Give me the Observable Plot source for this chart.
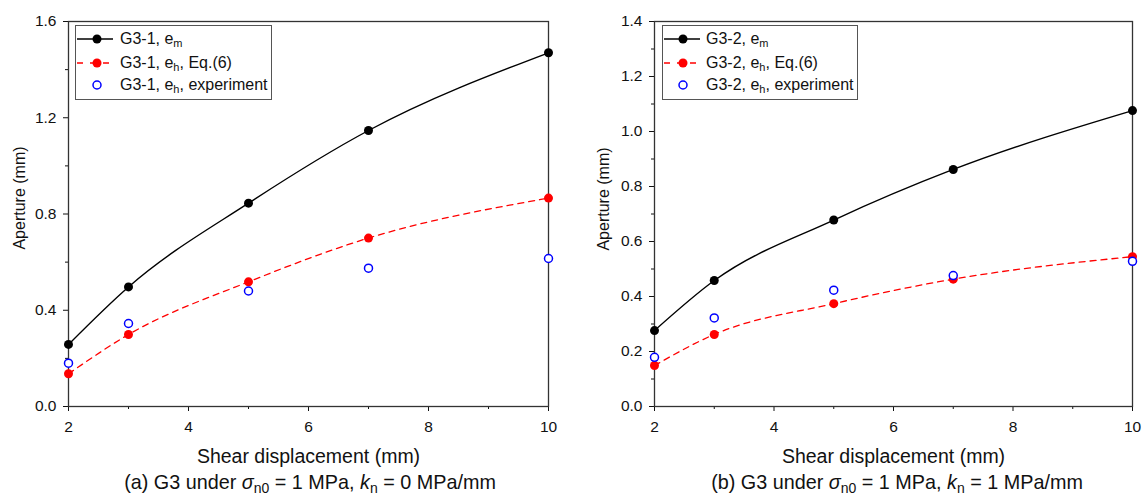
<!DOCTYPE html>
<html><head><meta charset="utf-8">
<script src="https://cdn.jsdelivr.net/npm/d3@7"></script>
<script src="https://cdn.jsdelivr.net/npm/@observablehq/plot@0.6"></script>
<style>
body{margin:0;background:#fff;font-family:"Liberation Sans",Arial,sans-serif;color:#111;}
#wrap{position:relative;width:1142px;height:495px;overflow:hidden;}
.panel{position:absolute;top:0;width:571px;height:495px;}
.panel svg{display:block;}
.legend{position:absolute;border:1px solid #555;background:#fff;font-size:16px;box-sizing:border-box;}
.row{position:absolute;height:20px;left:0;right:0;}
.row svg{position:absolute;left:0;top:0;}
.row span{position:absolute;top:0;line-height:20px;white-space:nowrap;}
.row sub{font-size:11px;vertical-align:-3px;line-height:0;}
.caption{position:absolute;white-space:nowrap;font-size:19.8px;line-height:20px;transform:translateX(-50%);}
.caption sub{font-size:14px;vertical-align:-4px;line-height:0;}
.ylab{position:absolute;white-space:nowrap;font-size:16px;line-height:16px;transform:translate(-50%,-50%) rotate(-90deg);}
g[aria-label="x-axis label"] text{font-size:19.5px;}
</style>
</head><body>
<div id="wrap"></div>
<script>
const shear = [2, 3, 5, 7, 10];
const g31_em  = [0.258, 0.497, 0.845, 1.147, 1.470];
const g31_eq6 = [0.136, 0.299, 0.518, 0.700, 0.866];
const g31_exp = [0.180, 0.345, 0.480, 0.575, 0.615];
const g32_em  = [0.276, 0.458, 0.678, 0.862, 1.076];
const g32_eq6 = [0.149, 0.262, 0.374, 0.463, 0.545];
const g32_exp = [0.179, 0.322, 0.423, 0.476, 0.528];
const xMajor = [2, 4, 6, 8, 10];
const xMinor = [3, 5, 7, 9];
const yMajorA = [0, 0.4, 0.8, 1.2, 1.6];
const yMinorA = [0.2, 0.6, 1.0, 1.4];
const yMajorB = [0, 0.2, 0.4, 0.6, 0.8, 1.0, 1.2, 1.4];
const yMinorB = [0.1, 0.3, 0.5, 0.7, 0.9, 1.1, 1.3];

function rows(vals){ return shear.map((x,i)=>({x, y: vals[i]})); }

function makePanel(cfg){
  const em = rows(cfg.em), eq = rows(cfg.eq6), ex = rows(cfg.exp);
  return Plot.plot({
    width: 571, height: 470,
    marginLeft: cfg.ml, marginRight: cfg.mr, marginTop: 21, marginBottom: 64,
    x: {domain: [2, 10]},
    y: {domain: [0, cfg.ymax]},
    style: {fontFamily: "Liberation Sans, Arial, sans-serif", fontSize: "15.5px", color: "#111", background: "white"},
    marks: [
      Plot.axisX({ticks: xMajor, tickSize: 5, tickPadding: 9, tickFormat: d3.format("d"), fontSize: 15.5,
        label: "Shear displacement (mm)", labelAnchor: "center", labelArrow: "none", labelOffset: 56}),
      Plot.axisX({ticks: xMinor, tickSize: 3, text: null, label: null}),
      Plot.axisY({ticks: cfg.yMajor, tickSize: 5, tickPadding: 7, tickFormat: d3.format(".1f"), fontSize: 15.5, label: null}),
      Plot.axisY({ticks: cfg.yMinor, tickSize: 3, text: null, label: null}),
      Plot.frame({stroke: "#333", strokeWidth: 1.3}),
      Plot.line(em, {x: "x", y: "y", stroke: "black", strokeWidth: 1.4, curve: "monotone-x"}),
      Plot.line(eq, {x: "x", y: "y", stroke: "#f00", strokeWidth: 1.3, strokeDasharray: "6,5", curve: "monotone-x"}),
      Plot.dot(em, {x: "x", y: "y", fill: "black", r: 4.5}),
      Plot.dot(eq, {x: "x", y: "y", fill: "#f00", r: 4.5}),
      Plot.dot(ex, {x: "x", y: "y", stroke: "#00f", fill: "white", r: 4, strokeWidth: 1.5})
    ]
  });
}

function legendHTML(name, left, top, width, mx, tx){
  return `<div class="legend" style="left:${left}px;top:${top}px;width:${width}px;height:75px;">
    <div class="row" style="top:3px"><svg width="44" height="20"><line x1="1" x2="37" y1="10" y2="10" stroke="black" stroke-width="1.4"/><circle cx="${mx}" cy="10" r="4.5" fill="black"/></svg><span style="left:${tx}px">${name}, e<sub>m</sub></span></div>
    <div class="row" style="top:27px"><svg width="44" height="20"><line x1="1" x2="37" y1="10" y2="10" stroke="#f00" stroke-width="1.3" stroke-dasharray="6,7"/><circle cx="${mx}" cy="10" r="4.5" fill="#f00"/></svg><span style="left:${tx}px">${name}, e<sub>h</sub>, Eq.(6)</span></div>
    <div class="row" style="top:49px"><svg width="44" height="20"><circle cx="${mx}" cy="10" r="4" fill="white" stroke="#00f" stroke-width="1.5"/></svg><span style="left:${tx}px">${name}, e<sub>h</sub>, experiment</span></div>
  </div>`;
}

const wrap = document.getElementById("wrap");

const pA = document.createElement("div"); pA.className = "panel"; pA.style.left = "0px";
pA.appendChild(makePanel({em: g31_em, eq6: g31_eq6, exp: g31_exp, ymax: 1.6, yMajor: yMajorA, yMinor: yMinorA, ml: 68, mr: 23}));
pA.insertAdjacentHTML("beforeend", legendHTML("G3-1", 75, 25, 197, 21, 44));
pA.insertAdjacentHTML("beforeend", `<div class="ylab" style="left:20px;top:198px">Aperture (mm)</div>`);
pA.insertAdjacentHTML("beforeend", `<div class="caption" style="left:310px;top:472px">(a) G3 under <i>σ</i><sub>n0</sub> = 1 MPa, <i>k</i><sub>n</sub> = 0 MPa/mm</div>`);
wrap.appendChild(pA);

const pB = document.createElement("div"); pB.className = "panel"; pB.style.left = "571px";
pB.appendChild(makePanel({em: g32_em, eq6: g32_eq6, exp: g32_exp, ymax: 1.4, yMajor: yMajorB, yMinor: yMinorB, ml: 83, mr: 10}));
pB.insertAdjacentHTML("beforeend", legendHTML("G3-2", 91, 25, 196, 20, 43));
pB.insertAdjacentHTML("beforeend", `<div class="ylab" style="left:33px;top:199px">Aperture (mm)</div>`);
pB.insertAdjacentHTML("beforeend", `<div class="caption" style="left:326px;top:472px">(b) G3 under <i>σ</i><sub>n0</sub> = 1 MPa, <i>k</i><sub>n</sub> = 1 MPa/mm</div>`);
wrap.appendChild(pB);
</script>
</body></html>
